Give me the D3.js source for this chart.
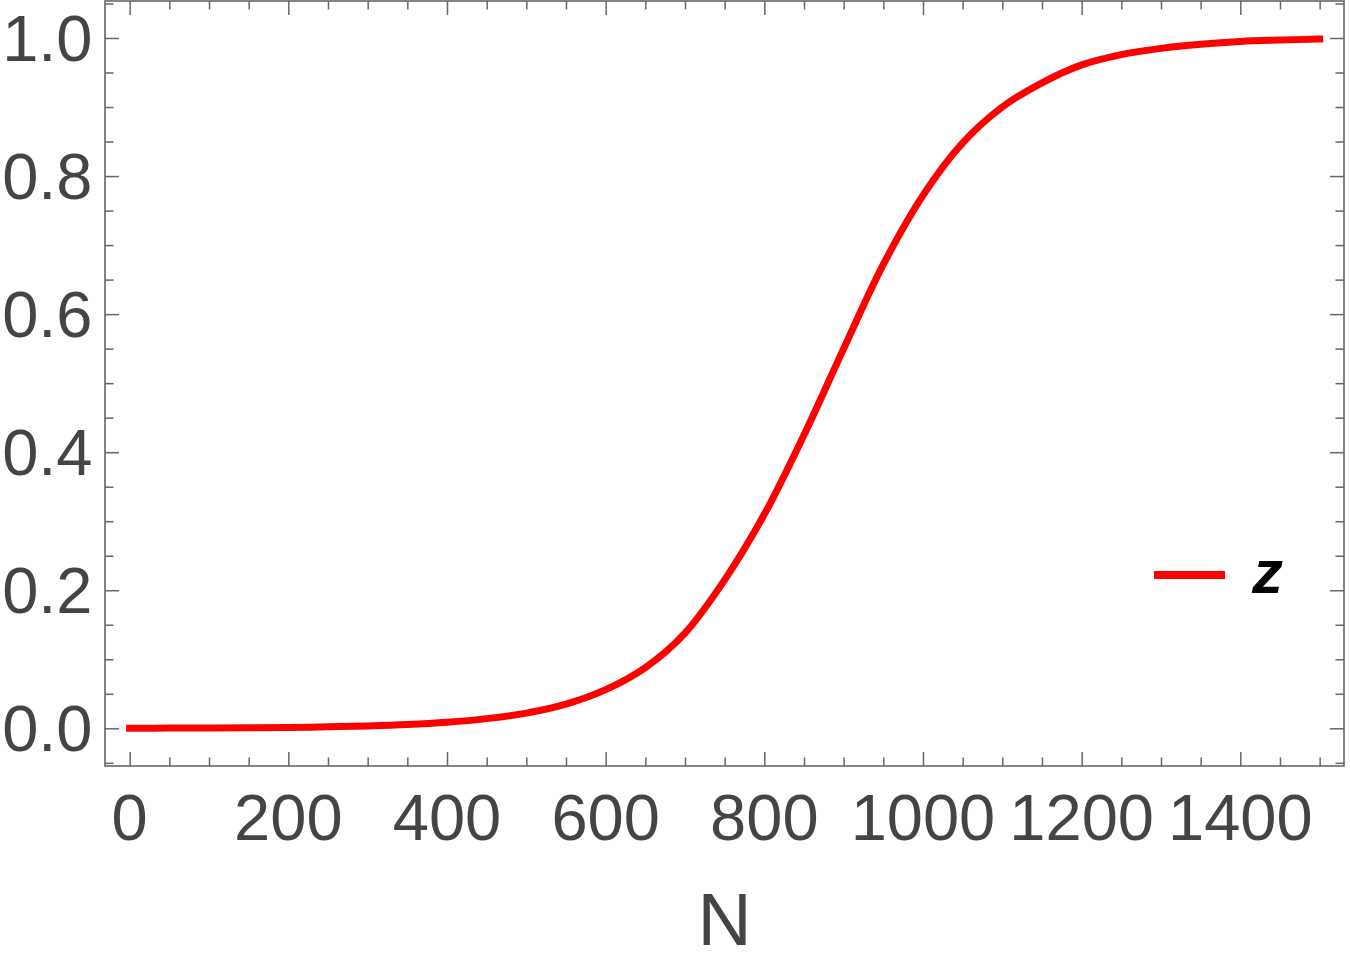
<!DOCTYPE html>
<html>
<head>
<meta charset="utf-8">
<script src="https://cdnjs.cloudflare.com/ajax/libs/d3/7.8.5/d3.min.js"></script>
<style>
  body { margin: 0; background: #ffffff; }
  svg { display: block; }
</style>
</head>
<body>
<script>
// ### Data ###
var nValues = [0, 50, 100, 150, 200, 250, 300, 350, 400, 450, 500, 550, 600, 650, 700, 750,
               800, 850, 900, 950, 1000, 1050, 1100, 1150, 1200, 1250, 1300, 1350, 1400, 1450, 1500];
var zValues = [0.0002, 0.0003, 0.0005, 0.0008, 0.0013, 0.0021, 0.0034, 0.0054, 0.0087, 0.014, 0.022, 0.035, 0.056, 0.088, 0.138, 0.215,
               0.31, 0.425, 0.55, 0.672, 0.772, 0.848, 0.90, 0.935, 0.961, 0.976, 0.985, 0.991, 0.995, 0.997, 0.9985];
var xMajorTicks = [0, 200, 400, 600, 800, 1000, 1200, 1400];
var yMajorTicks = [0.0, 0.2, 0.4, 0.6, 0.8, 1.0];
var seriesName = "z";
var xLabel = "N";

// Parameters
var width = 1350, height = 965;
var frame = {left: 105, right: 1344, top: 1, bottom: 766};
var lineColor = "#ff0000";
var axisColor = "#666666";
var textColor = "#444444";
var fontFamily = "'Liberation Sans', Arial, sans-serif";

var svg = d3.select("body").append("svg")
    .attr("width", width)
    .attr("height", height);

svg.append("rect")
    .attr("width", width)
    .attr("height", height)
    .attr("fill", "#ffffff");

// scales (padding like the original plot range)
var x = d3.scaleLinear()
    .domain([-31.1, 1530.7])
    .range([frame.left, frame.right]);
var y = d3.scaleLinear()
    .domain([-0.0546, 1.0536])
    .range([frame.bottom, frame.top]);

var data = nValues.map(function(n, i) { return {n: n, z: zValues[i]}; });

// minor ticks every 50 / 0.05
var xMinor = d3.range(0, 1501, 50).filter(function(v) { return xMajorTicks.indexOf(v) < 0; });
var yMinor = d3.range(-1, 22).map(function(i) { return +(i * 0.05).toFixed(2); })
    .filter(function(v) { return yMajorTicks.indexOf(v) < 0 && v >= y.domain()[0] && v <= y.domain()[1]; });

var majorLen = 14, minorLen = 8.5;

// ### frame axes ###
function tickAxis(axisFn, scale, values, len) {
    return axisFn(scale).tickValues(values).tickSize(len).tickFormat("");
}

var frameGroup = svg.append("g").attr("class", "frame");

function addTicks(axisFn, scale, translate) {
    frameGroup.append("g")
        .attr("transform", translate)
        .call(tickAxis(axisFn, scale, scale === x ? xMajorTicks : yMajorTicks, majorLen))
        .call(function(g) { g.select(".domain").remove(); });
    frameGroup.append("g")
        .attr("transform", translate)
        .call(tickAxis(axisFn, scale, scale === x ? xMinor : yMinor, minorLen))
        .call(function(g) { g.select(".domain").remove(); });
}

addTicks(d3.axisTop, x, "translate(0," + frame.bottom + ")");    // bottom
addTicks(d3.axisBottom, x, "translate(0," + frame.top + ")");    // top
addTicks(d3.axisRight, y, "translate(" + frame.left + ",0)");    // left
addTicks(d3.axisLeft, y, "translate(" + frame.right + ",0)");    // right

frameGroup.selectAll(".tick line")
    .attr("stroke", axisColor)
    .attr("stroke-width", 1.5);

frameGroup.append("rect")
    .attr("x", frame.left)
    .attr("y", frame.top)
    .attr("width", frame.right - frame.left)
    .attr("height", frame.bottom - frame.top)
    .attr("fill", "none")
    .attr("stroke", axisColor)
    .attr("stroke-width", 1.6);

// ### tick labels ###
svg.append("g").selectAll("text")
    .data(xMajorTicks)
  .enter().append("text")
    .attr("x", function(d) { return x(d); })
    .attr("y", frame.bottom + 74)
    .attr("text-anchor", "middle")
    .attr("font-family", fontFamily)
    .attr("font-size", 65)
    .attr("fill", textColor)
    .text(function(d) { return d; });

svg.append("g").selectAll("text")
    .data(yMajorTicks)
  .enter().append("text")
    .attr("x", 92.5)
    .attr("y", function(d) { return y(d); })
    .attr("dy", "0.35em")
    .attr("text-anchor", "end")
    .attr("font-family", fontFamily)
    .attr("font-size", 65)
    .attr("fill", textColor)
    .text(function(d) { return d3.format(".1f")(d); });

// axis label
svg.append("text")
    .attr("x", (frame.left + frame.right) / 2)
    .attr("y", 945)
    .attr("text-anchor", "middle")
    .attr("font-family", fontFamily)
    .attr("font-size", 75)
    .attr("fill", textColor)
    .text(xLabel);

// ### the curve ###
var line = d3.line()
    .x(function(d) { return x(d.n); })
    .y(function(d) { return y(d.z); })
    .curve(d3.curveCatmullRom.alpha(0.5));

svg.append("path")
    .datum(data)
    .attr("d", line)
    .attr("fill", "none")
    .attr("stroke", lineColor)
    .attr("stroke-width", 7)
    .attr("stroke-linecap", "square")
    .attr("stroke-linejoin", "round");

// ### legend ###
var legend = svg.append("g").attr("transform", "translate(1154,575)");
legend.append("line")
    .attr("x1", 0)
    .attr("x2", 71)
    .attr("stroke", lineColor)
    .attr("stroke-width", 8);
legend.append("text")
    .attr("x", 98)
    .attr("y", 18)
    .attr("font-family", fontFamily)
    .attr("font-style", "italic")
    .attr("font-weight", "bold")
    .attr("font-size", 62)
    .attr("fill", "#000000")
    .text(seriesName);
</script>
</body>
</html>
